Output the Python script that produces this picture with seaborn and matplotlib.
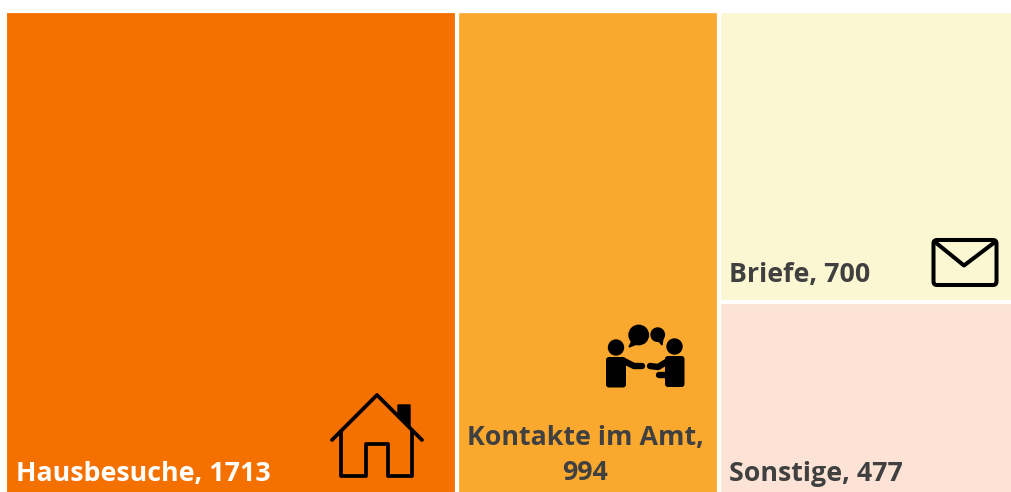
import numpy as np
import pandas as pd
import seaborn as sns
import matplotlib.pyplot as plt
from matplotlib.patches import Circle, FancyBboxPatch, Polygon

# values of the treemap
categories = ['Hausbesuche', 'Kontakte im Amt', 'Briefe', 'Sonstige']
values = [1713, 994, 700, 477]
columns = [0, 1, 2, 2]
colors = ['#F47100', '#FBA92E', '#FBF7D3', '#FCE3D5']

W, H = 1012, 492
ink = '#000000'
grey = '#404040'

sns.set_theme(style='white')
plt.rcParams['font.family'] = ['Open Sans', 'DejaVu Sans']

# column widths and cell heights follow the values
df = pd.DataFrame({'category': categories, 'value': values, 'column': columns})
col_totals = df.groupby('column')['value'].sum()
edges = np.concatenate([[0], np.cumsum(col_totals.values)]) / col_totals.sum()
df['x'] = [(edges[c] + edges[c + 1]) / 2 for c in df['column']]
df['share'] = df['value'] / df['column'].map(col_totals)

fig = plt.figure(figsize=(W / 100, H / 100), dpi=100, facecolor='white')

# the source picture is cropped at right and bottom, so the axes run past the figure
left, right, top, bottom = 5, 1029, 11, 500
ax = fig.add_axes([left / W, 1 - bottom / H, (right - left) / W, (bottom - top) / H])
sns.histplot(data=df, x='x', weights='share', hue='category', hue_order=categories,
             palette=dict(zip(categories, colors)), bins=list(edges), multiple='stack',
             alpha=1, edgecolor='white', linewidth=3, legend=False, ax=ax)
ax.set_xlim(0, 1)
ax.set_ylim(0, 1)
ax.axis('off')

# overlay in pixels for the labels and icons
ov = fig.add_axes([0, 0, 1, 1])
ov.set_xlim(0, W)
ov.set_ylim(H, 0)
ov.axis('off')
ov.patch.set_alpha(0)

fs = 19.3
ov.text(16.5, 474, f'{categories[0]}, {values[0]}', color='white', fontsize=fs, fontweight='bold', va='center')
ov.text(585, 455, f'{categories[1]},\n{values[1]}', color=grey, fontsize=fs, fontweight='bold',
        va='center', ha='center', linespacing=1.45)
ov.text(729.5, 275, f'{categories[2]}, {values[2]}', color=grey, fontsize=fs, fontweight='bold', va='center')
ov.text(729.5, 474, f'{categories[3]}, {values[3]}', color=grey, fontsize=fs, fontweight='bold', va='center')

# house icon
line = dict(color=ink, lw=2.7, solid_capstyle='round', solid_joinstyle='round')
ov.plot([332, 377, 422], [440, 395, 440], **line)
ov.plot([341, 341, 366, 366, 388, 388, 412, 412], [431, 476, 476, 444, 444, 476, 476, 431], **line)
ov.add_patch(Polygon([(398, 405), (410, 405), (410, 428), (398, 416)], color=ink))

# people icon
for cx, cy, r in [(616, 347.5, 7.5), (674.5, 346.5, 7.5), (638.7, 335, 9.7), (657.7, 334.7, 6.7)]:
    ov.add_patch(Circle((cx, cy), r, color=ink))
ov.add_patch(Polygon([(632, 341), (637, 344), (629, 347)], color=ink))
ov.add_patch(Polygon([(658, 340), (663, 338), (662, 345)], color=ink))
for x0, y0, w, h in [(606, 357, 20, 30.5), (665, 356, 19.5, 31)]:
    ov.add_patch(FancyBboxPatch((x0 + 3, y0 + 3), w - 6, h - 6, boxstyle='round,pad=3',
                                fc=ink, ec='none'))
arm = dict(color=ink, lw=4.6, solid_capstyle='round', solid_joinstyle='round')
ov.plot([624, 634, 642], [361, 366, 366], **arm)
ov.plot([668, 658, 650], [361, 367, 366], **arm)
ov.plot([659, 668], [375, 375], **arm)

# envelope icon
ov.add_patch(FancyBboxPatch((937, 243.5), 56, 38, boxstyle='round,pad=3.5', fc='none', ec=ink, lw=2.9))
ov.plot([935, 964, 995], [242, 265.5, 242], color=ink, lw=2.9, solid_capstyle='round', solid_joinstyle='round')

fig.savefig('out.png', dpi=100)
